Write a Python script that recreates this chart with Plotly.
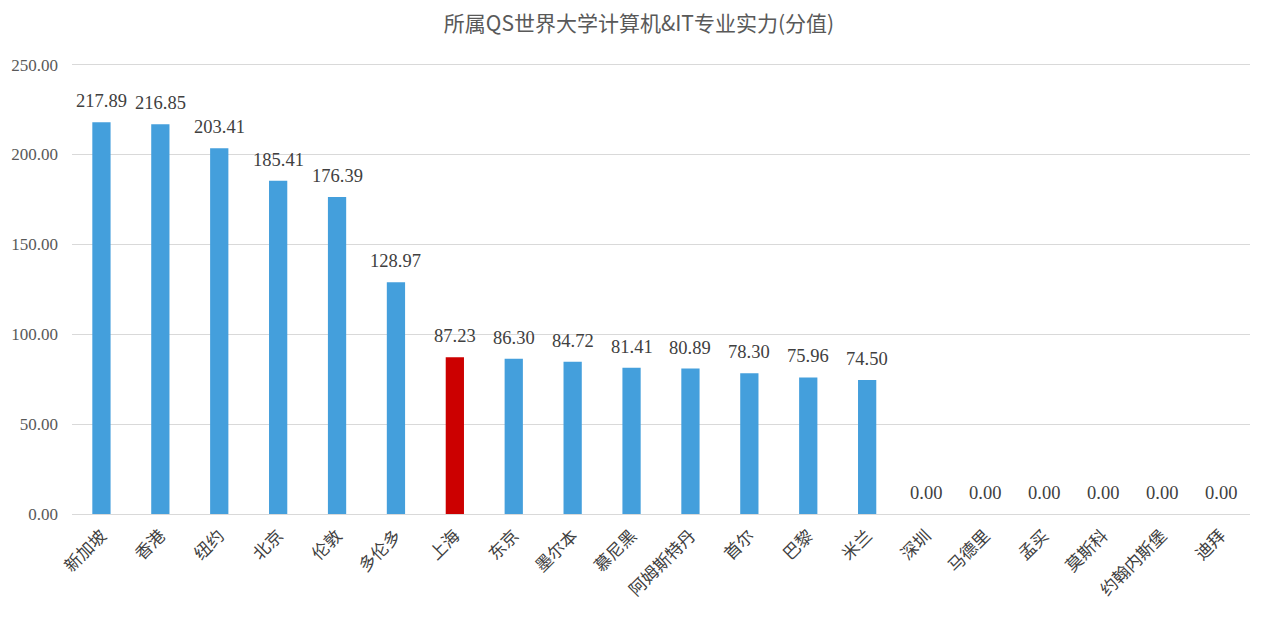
import plotly.graph_objects as go

cities = ["新加坡", "香港", "纽约", "北京", "伦敦", "多伦多", "上海", "东京", "墨尔本", "慕尼黑",
          "阿姆斯特丹", "首尔", "巴黎", "米兰", "深圳", "马德里", "孟买", "莫斯科", "约翰内斯堡", "迪拜"]
scores = [217.89, 216.85, 203.41, 185.41, 176.39, 128.97, 87.23, 86.30, 84.72, 81.41,
          80.89, 78.30, 75.96, 74.50, 0.00, 0.00, 0.00, 0.00, 0.00, 0.00]
highlight = "上海"
y_ticks = [0, 50, 100, 150, 200, 250]

colors = ["#CC0000" if c == highlight else "#449FDC" for c in cities]

fig = go.Figure(go.Bar(
    x=cities, y=scores, marker=dict(color=colors, line=dict(width=0)),
    cliponaxis=False,
))

for c, v in zip(cities, scores):
    fig.add_annotation(x=c, y=v, text=f"{v:.2f}", showarrow=False,
                       yanchor="middle", yshift=21,
                       font=dict(family="Liberation Serif", size=18.5, color="#404040"))

fig.update_layout(
    width=1262, height=610,
    margin=dict(l=64, r=20, t=53.4, b=104, autoexpand=False),
    paper_bgcolor="white", plot_bgcolor="white",
    title=dict(text="所属QS世界大学计算机&IT专业实力(分值)", x=0.5, xanchor="center",
               y=0.974, yanchor="middle",
               font=dict(family="Noto Sans CJK SC", size=21, color="#595959")),
    bargap=0.69,
    showlegend=False,
    xaxis=dict(tickangle=-45, tickfont=dict(family="Noto Sans CJK SC", size=17, color="#404040"),
               showline=True, linecolor="#D9D9D9", linewidth=1, ticks="", automargin=False,
               ticklabelstandoff=4),
    yaxis=dict(range=[0, 252], tickvals=y_ticks, tickformat=".2f",
               tickfont=dict(family="Liberation Serif", size=17, color="#595959"),
               gridcolor="#D9D9D9", gridwidth=1, zeroline=False, ticks="", automargin=False,
               ticklabelstandoff=13),
)

fig.write_html("out.html")
